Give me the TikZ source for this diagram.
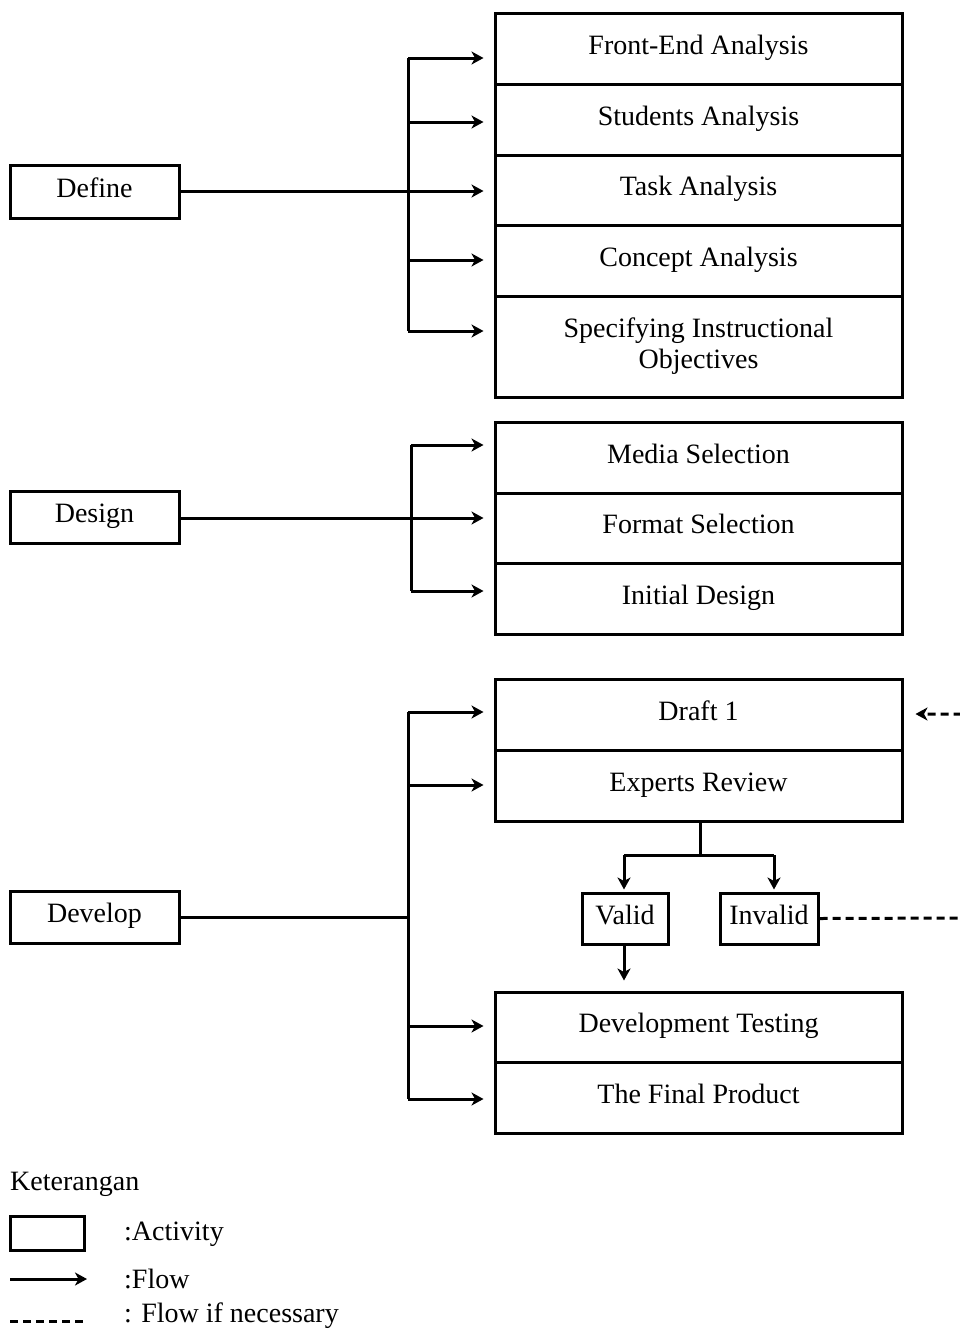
\documentclass[tikz,border=0pt]{standalone}
\usepackage{fontspec}
\setmainfont{Liberation Serif}
\usetikzlibrary{arrows.meta,calc}
\begin{document}
\begin{tikzpicture}[x=1pt,y=-1pt,
  every node/.style={font=\fontsize{28}{31}\selectfont, inner sep=0pt},
  oneline/.style={text height=19pt, text depth=8pt},
  actbox/.style={draw, line width=3pt, minimum width=407pt, align=center},
  phase/.style={draw, line width=3pt, minimum width=169pt, minimum height=52pt, oneline},
  smallbox/.style={draw, line width=3pt, minimum height=51pt, oneline},
  conn/.style={line width=3pt},
  tip/.style={-{Stealth[length=12pt,width=13pt,inset=3.5pt]}},
  flow/.style={line width=3pt, tip, shorten >=10pt},
  maybe/.style={line width=3pt, dash pattern=on 8pt off 5pt}
]
\useasboundingbox (0,0) rectangle (960,1331);
\fill[white] (0,0) rectangle (960,1331);

% ---------- Define ----------
\node[phase, minimum height=53pt] (define) at (94.5,191.5) {Define};
\node[actbox, oneline, minimum height=71pt] (fe) at (698.5,48.5) {Front-End Analysis};
\node[actbox, oneline, minimum height=71pt] (sa) at (698.5,119.5) {Students Analysis};
\node[actbox, oneline, minimum height=70pt] (ta) at (698.5,190) {Task Analysis};
\node[actbox, oneline, minimum height=71pt] (ca) at (698.5,260.5) {Concept Analysis};
\node[actbox, minimum height=101pt] (sio) at (698.5,346.5) {Specifying Instructional\\Objectives};

\coordinate (d1t) at (408,58);
\coordinate (d2t) at (408,122);
\coordinate (d3t) at (408,191);
\coordinate (d4t) at (408,260);
\coordinate (d5t) at (408,331);
\draw[conn] (define.east |- d3t) -- (d3t);
\draw[conn] (d1t) -- (d5t);
\draw[flow] (d1t) -- (fe.west |- d1t);
\draw[flow] (d2t) -- (sa.west |- d2t);
\draw[flow] (d3t) -- (ta.west |- d3t);
\draw[flow] (d4t) -- (ca.west |- d4t);
\draw[flow] (d5t) -- (sio.west |- d5t);

% ---------- Design ----------
\node[phase] (design) at (94.5,517) {Design};
\node[actbox, oneline, minimum height=71pt] (ms) at (698.5,457.5) {Media Selection};
\node[actbox, oneline, minimum height=70pt] (fs) at (698.5,528) {Format Selection};
\node[actbox, oneline, minimum height=71pt] (ind) at (698.5,598.5) {Initial Design};

\coordinate (g1t) at (411,445);
\coordinate (g2t) at (411,518);
\coordinate (g3t) at (411,591);
\draw[conn] (design.east |- g2t) -- (g2t);
\draw[conn] (g1t) -- (g3t);
\draw[flow] (g1t) -- (ms.west |- g1t);
\draw[flow] (g2t) -- (fs.west |- g2t);
\draw[flow] (g3t) -- (ind.west |- g3t);

% ---------- Develop ----------
\node[phase] (develop) at (94.5,917) {Develop};
\node[actbox, oneline, minimum height=71pt] (dr) at (698.5,714.5) {Draft 1};
\node[actbox, oneline, minimum height=71pt] (er) at (698.5,785.5) {Experts Review};
\node[actbox, oneline, minimum height=70pt] (dt) at (698.5,1027) {Development Testing};
\node[actbox, oneline, minimum height=71pt] (fp) at (698.5,1097.5) {The Final Product};
\node[smallbox, minimum width=86pt] (valid) at (625,918.5) {Valid};
\node[smallbox, minimum width=98pt] (invalid) at (769,918.5) {Invalid};

\coordinate (v1t) at (408,712);
\coordinate (v2t) at (408,785);
\coordinate (v0t) at (408,917);
\coordinate (v3t) at (408,1026);
\coordinate (v4t) at (408,1099);
\draw[conn] (develop.east |- v0t) -- (v0t);
\draw[conn] (v1t) -- (v4t);
\draw[flow] (v1t) -- (dr.west |- v1t);
\draw[flow] (v2t) -- (er.west |- v2t);
\draw[flow] (v3t) -- (dt.west |- v3t);
\draw[flow] (v4t) -- (fp.west |- v4t);

\coordinate (sp) at (700,855);
\coordinate (spl) at (624,855);
\coordinate (spr) at (774,855);
\draw[conn] (er.south -| sp) -- (sp);
\draw[conn] (spl) -- (spr);
\draw[flow, shorten >=2pt] (spl) -- (spl |- valid.north);
\draw[flow, shorten >=2pt] (spr) -- (spr |- invalid.north);
\draw[flow] (valid.south -| spl) -- (spl |- dt.north);

\coordinate (rb) at (964,918);
\coordinate (rt) at (964,714);
\draw[maybe, tip, shorten >=12pt]
  (invalid.east) -- (rb) -- (rt) -- (dr.east |- rt);

% ---------- Legend ----------
\node[anchor=west] (ket) at (10,1184) {Keterangan};
\node[draw, line width=3pt, minimum width=74pt, minimum height=34pt] (lbox) at (47,1233) {};
\node[anchor=west] (lact) at (124,1234) {:Activity};
\coordinate (lf1) at (10,1279);
\coordinate (lf2) at (87,1279);
\draw[line width=3pt, tip] (lf1) -- (lf2);
\node[anchor=west] (lflow) at (124,1279) {:Flow};
\coordinate (ld1) at (10,1321);
\coordinate (ld2) at (86,1321);
\draw[maybe] (ld1) -- (ld2);
\node[anchor=west] (lmaybe) at (124,1316) {: Flow if necessary};
\end{tikzpicture}
\end{document}
